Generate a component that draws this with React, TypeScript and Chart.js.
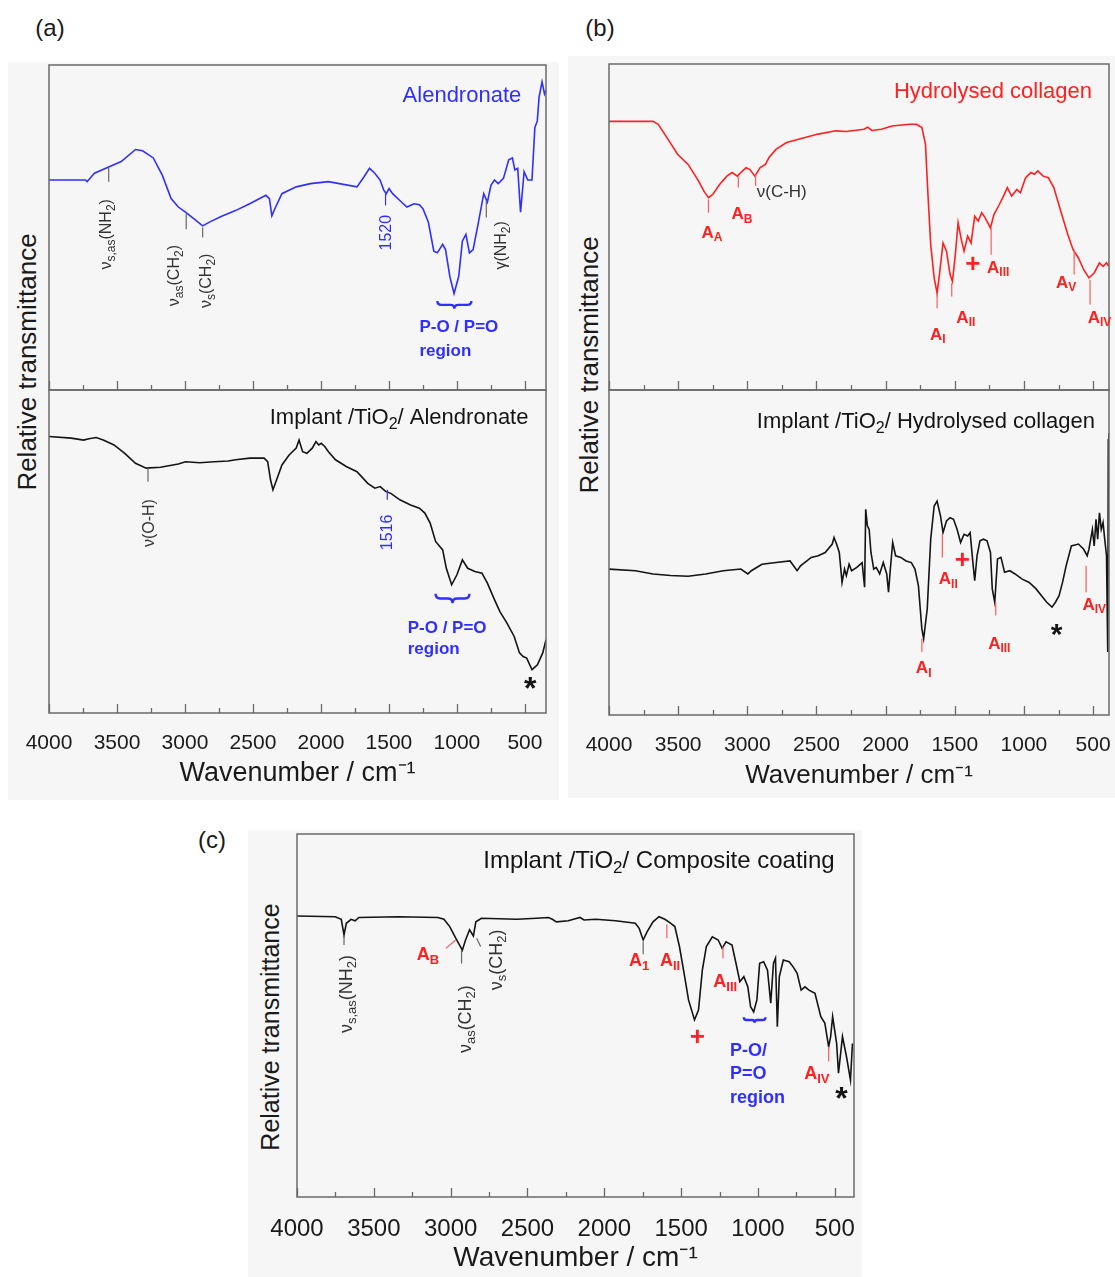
import React, { useEffect, useRef } from "react";
import { Chart, registerables } from "chart.js";
Chart.register(...registerables);

const FONT = "'Liberation Sans', Arial, sans-serif";
const BLUE = "#2f2fff";
const RED = "#ff2020";
const RED_L = "#ff5c5c";
const GRAY = "#666666";
const DARK = "#333333";
const BLACK = "#141414";
const FRAME = "#6a6a6a";
const BG = "#f6f6f6";

// ---- axis ticks ----
const TICK_LABELS = [4000, 3500, 3000, 2500, 2000, 1500, 1000, 500];
const TICK_MARKS = [4000, 3750, 3500, 3250, 3000, 2750, 2500, 2250, 2000, 1750, 1500, 1250, 1000, 750, 500];
const X_TITLE = "Wavenumber / cm\u207B\u00B9";
const Y_TITLE = "Relative transmittance";

// ---- (a) Alendronate ----
const alnWn = [4000,3732,3720,3666,3574,3469,3364,3312,3233,3167,3102,3049,2996,2931,2870,2813,2734,2629,2524,2405,2379,2361,2340,2287,2182,2077,1946,1735,1683,1643,1604,1565,1538,1520,1499,1473,1420,1368,1315,1276,1249,1210,1170,1144,1105,1084,1052,1021,987,960,934,908,881,842,803,776,750,724,697,658,619,592,574,553,532,506,479,448,427,409,396,374,356,345];
const alnT = [64.6,64.6,64.1,66.7,68.4,70.3,74.0,73.6,71.4,66.1,58.9,56.3,54.7,52.6,50.5,51.8,53.4,55.2,57.3,59.9,58.9,53.6,55.7,60.4,62.5,63.5,64.1,62.5,65.6,68.2,66.7,64.6,61.5,60.4,62.0,60.4,58.3,56.3,57.3,57.0,55.7,51.6,42.7,42.2,44.8,43.2,34.9,29.7,34.9,45.8,47.9,42.2,43.2,51.6,60.4,57.8,63.0,64.6,63.5,65.1,70.8,71.4,67.7,68.2,54.7,67.2,64.6,64.6,80.7,82.8,90.1,94.8,91.1,92.2];

// ---- (a) Implant / TiO2 / Alendronate ----
const impAWn = [4000,3837,3745,3706,3653,3601,3522,3443,3364,3285,3180,3049,2996,2891,2786,2681,2628,2523,2418,2392,2371,2353,2326,2287,2234,2182,2161,2135,2103,2064,2037,2016,1998,1972,1945,1893,1814,1735,1656,1604,1564,1525,1486,1420,1341,1276,1236,1197,1157,1105,1078,1039,1000,960,921,868,816,776,724,684,632,579,540,513,487,448,408,369,345];
const impAT = [85.6,85.1,84.5,84.9,85.3,84.5,83.0,80.4,77.3,75.8,76.1,77.1,77.8,77.5,77.8,78.0,78.4,78.9,78.9,77.8,72.2,69.1,72.2,76.8,79.9,82.0,84.5,80.9,80.4,82.0,84.0,83.0,83.5,82.5,80.9,78.4,76.3,74.7,71.1,69.6,70.1,68.6,68.0,66.0,64.4,63.4,61.9,58.8,53.1,50.5,44.8,39.7,42.8,47.4,44.8,43.8,43.3,40.2,35.1,31.4,27.8,23.7,18.6,17.5,17.0,13.4,14.9,18.6,22.7];

// ---- (b) Hydrolysed collagen ----
const colWn = [4000,3682,3644,3581,3504,3428,3352,3314,3281,3250,3199,3148,3110,3072,3047,3009,2983,2945,2907,2869,2843,2793,2716,2589,2488,2360,2284,2157,2130,2100,2030,1954,1827,1776,1738,1712,1694,1674,1649,1628,1611,1585,1560,1534,1517,1496,1476,1450,1433,1407,1382,1356,1331,1305,1280,1242,1217,1178,1153,1120,1089,1051,1026,988,950,924,899,861,823,784,734,683,645,606,568,530,492,454,428,403,385];
const colT = [82.4,82.4,81.5,77.4,72.3,69.2,64.1,61.0,59.0,60.0,63.1,65.6,66.7,65.6,66.7,68.2,67.7,65.6,68.2,69.2,71.3,73.8,75.9,77.4,78.5,79.5,79.3,80.0,80.6,79.6,80.0,81.0,81.5,81.5,80.5,75.4,60.0,44.6,34.4,29.7,35.4,45.1,42.6,35.4,33.3,41.5,51.3,45.6,42.6,47.2,45.1,53.3,51.8,54.4,52.8,49.7,53.8,56.9,59.0,62.1,59.5,61.5,60.5,65.1,66.7,66.2,67.2,65.6,65.1,62.1,54.9,47.7,43.1,40.5,36.9,34.4,35.9,39.0,37.9,39.0,37.9];

// ---- (b) Implant / TiO2 / Hydrolysed collagen ----
const impCWn = [4000,3809,3682,3555,3428,3301,3174,3047,2996,2971,2894,2793,2691,2640,2615,2538,2487,2437,2386,2373,2355,2335,2315,2297,2284,2264,2246,2208,2170,2152,2144,2132,2119,2106,2086,2068,2043,2017,1992,1979,1966,1949,1928,1890,1852,1814,1788,1763,1738,1725,1699,1674,1649,1628,1603,1585,1560,1534,1509,1483,1458,1433,1407,1389,1369,1356,1339,1318,1293,1267,1242,1229,1211,1191,1166,1140,1102,1064,1013,962,912,873,835,797,772,746,721,695,657,606,568,543,530,505,492,479,467,454,441,428,416,403,394,390,386];
const impCT = [44.9,44.4,43.4,42.9,42.7,43.4,44.4,44.9,43.4,44.4,46.4,46.9,47.4,44.4,45.9,48.5,49.0,50.0,52.6,54.6,52.6,50.0,40.8,44.9,42.9,46.4,44.4,45.4,46.9,39.3,63.3,58.2,57.1,50.0,44.9,45.4,43.4,46.9,43.4,37.8,44.9,53.1,49.0,48.5,47.4,46.9,44.9,39.8,26.5,23.5,32.7,54.1,64.3,65.8,61.2,56.1,59.7,60.7,60.2,57.1,53.1,55.6,55.1,56.1,46.9,41.3,49.0,53.6,54.1,53.6,50.0,38.8,34.7,48.0,48.5,43.9,44.4,43.4,41.8,40.8,38.8,36.7,34.7,33.2,34.7,36.7,40.8,45.9,52.0,52.6,51.0,49.0,51.0,57.1,52.0,60.2,54.1,62.2,57.1,59.2,54.1,49.0,19.4,84.7,86.7];

// ---- (c) Implant / TiO2 / Composite coating ----
const compWn = [4000,3751,3712,3694,3679,3648,3622,3597,3340,3083,3044,3006,2967,2942,2924,2903,2877,2852,2836,2800,2569,2441,2364,2338,2312,2235,2158,2132,2055,1927,1798,1773,1747,1721,1683,1644,1606,1567,1541,1511,1477,1452,1413,1387,1362,1336,1297,1259,1233,1208,1169,1143,1118,1092,1066,1048,1028,1007,989,963,938,917,899,886,874,861,835,797,771,745,719,694,668,629,591,565,540,527,514,488,476,450,424,398,385];
const compT = [77.4,77.2,76.5,72.2,75.4,76.5,76.1,77.0,77.2,77.0,76.5,74.5,71.3,69.4,68.0,70.8,73.6,71.9,75.8,76.8,76.5,76.8,77.0,76.5,75.8,76.1,77.0,76.3,76.5,76.1,75.4,74.0,70.8,73.1,75.8,77.2,76.5,75.4,74.5,69.0,60.7,54.3,48.8,51.5,62.5,69.0,71.7,70.8,68.5,70.3,69.4,64.4,59.3,60.7,57.9,52.4,51.0,54.3,64.4,64.8,62.5,53.4,64.4,65.8,46.9,60.7,65.3,64.8,63.4,61.6,57.0,57.9,57.0,56.1,49.7,47.9,41.4,44.2,49.7,42.3,34.1,44.2,38.7,32.2,42.3];

type Ann =
  | { k: "text"; x: number; y: number; s: string; c: string; size: number; bold?: boolean; align?: "left" | "center" | "right"; rot?: boolean; dy?: number }
  | { k: "line"; x1: number; y1: number; x2?: number; y2: number; c: string }
  | { k: "brace"; x1: number; x2: number; y1: number; y2: number; c: string };

// ---- annotations (data coordinates) ----
const annAlnTop: Ann[] = [
  { k: "text", x: 527, y: 90.6, s: "Alendronate", c: BLUE, size: 22, align: "right" },
  { k: "line", x1: 3561, y1: 68.4, y2: 64.1, c: GRAY },
  { k: "text", x: 3574, y: 47.9, s: "ν_{s,as}(NH_{2})", c: DARK, size: 16, rot: true },
  { k: "line", x1: 2991, y1: 54.2, y2: 49.5, c: GRAY },
  { k: "text", x: 3075, y: 35.2, s: "ν_{as}(CH_{2})", c: DARK, size: 16, rot: true },
  { k: "line", x1: 2870, y1: 50.0, y2: 46.9, c: GRAY },
  { k: "text", x: 2839, y: 33.6, s: "ν_{s}(CH_{2})", c: DARK, size: 16, rot: true },
  { k: "line", x1: 1525, y1: 60.4, y2: 56.8, c: BLUE },
  { k: "text", x: 1520, y: 48.4, s: "1520", c: BLUE, size: 16, rot: true },
  { k: "line", x1: 784, y1: 58.3, y2: 53.1, c: GRAY },
  { k: "text", x: 671, y: 44.5, s: "γ(NH_{2})", c: DARK, size: 16, rot: true },
  { k: "brace", x1: 1144, x2: 894, y1: 27.4, y2: 25.0, c: BLUE },
  { k: "text", x: 1276, y: 19.3, s: "P-O / P=O", c: BLUE, size: 17, bold: true, align: "left" },
  { k: "text", x: 1276, y: 12.0, s: "region", c: BLUE, size: 17, bold: true, align: "left" },
];

const annAlnBot: Ann[] = [
  { k: "text", x: 474, y: 91.2, s: "Implant /TiO_{2}/ Alendronate", c: BLACK, size: 22, align: "right" },
  { k: "line", x1: 3272, y1: 75.8, y2: 71.6, c: GRAY },
  { k: "text", x: 3259, y: 58.8, s: "ν(O-H)", c: DARK, size: 16, rot: true },
  { k: "line", x1: 1512, y1: 69.1, y2: 66.0, c: BLUE },
  { k: "text", x: 1512, y: 55.9, s: "1516", c: BLUE, size: 16, rot: true },
  { k: "brace", x1: 1157, x2: 908, y1: 36.9, y2: 34.0, c: BLUE },
  { k: "text", x: 1362, y: 26.3, s: "P-O / P=O", c: BLUE, size: 17, bold: true, align: "left" },
  { k: "text", x: 1362, y: 19.6, s: "region", c: BLUE, size: 17, bold: true, align: "left" },
  { k: "text", x: 461, y: 9.3, s: "*", c: BLACK, size: 32, bold: true, dy: 7 },
];

const annColTop: Ann[] = [
  { k: "text", x: 508, y: 91.3, s: "Hydrolysed collagen", c: RED, size: 22, align: "right" },
  { k: "line", x1: 3281, y1: 58.5, y2: 54.4, c: RED_L },
  { k: "text", x: 3255, y: 48.2, s: "A_{A}", c: RED, size: 17, bold: true },
  { k: "line", x1: 3065, y1: 65.6, y2: 62.1, c: RED_L },
  { k: "text", x: 3039, y: 53.8, s: "A_{B}", c: RED, size: 17, bold: true },
  { k: "line", x1: 2940, y1: 66.2, y2: 62.6, c: RED_L },
  { k: "text", x: 2932, y: 60.5, s: "ν(C-H)", c: DARK, size: 17, align: "left" },
  { k: "line", x1: 1628, y1: 29.2, y2: 25.1, c: RED_L },
  { k: "text", x: 1623, y: 16.9, s: "A_{I}", c: RED, size: 17, bold: true },
  { k: "line", x1: 1522, y1: 32.8, y2: 28.7, c: RED_L },
  { k: "text", x: 1420, y: 22.1, s: "A_{II}", c: RED, size: 17, bold: true },
  { k: "text", x: 1369, y: 38.3, s: "+", c: RED, size: 26, bold: true },
  { k: "line", x1: 1237, y1: 49.7, y2: 41.5, c: RED_L },
  { k: "text", x: 1186, y: 37.4, s: "A_{III}", c: RED, size: 17, bold: true },
  { k: "line", x1: 637, y1: 42.6, y2: 35.4, c: RED_L },
  { k: "text", x: 695, y: 32.8, s: "A_{V}", c: RED, size: 17, bold: true },
  { k: "line", x1: 522, y1: 33.8, y2: 26.2, c: RED_L },
  { k: "text", x: 454, y: 22.1, s: "A_{IV}", c: RED, size: 17, bold: true },
];

const annColBot: Ann[] = [
  { k: "text", x: 486, y: 90.3, s: "Implant /TiO_{2}/ Hydrolysed collagen", c: BLACK, size: 22, align: "right" },
  { k: "line", x1: 1738, y1: 23.5, y2: 19.4, c: RED_L },
  { k: "text", x: 1725, y: 14.3, s: "A_{I}", c: RED, size: 17, bold: true },
  { k: "line", x1: 1590, y1: 55.6, y2: 48.5, c: RED_L },
  { k: "text", x: 1547, y: 41.8, s: "A_{II}", c: RED, size: 17, bold: true },
  { k: "text", x: 1445, y: 47.4, s: "+", c: RED, size: 26, bold: true },
  { k: "line", x1: 1204, y1: 34.7, y2: 30.6, c: RED_L },
  { k: "text", x: 1178, y: 21.9, s: "A_{III}", c: RED, size: 17, bold: true },
  { k: "text", x: 764, y: 26.5, s: "*", c: BLACK, size: 30, bold: true, dy: 7 },
  { k: "line", x1: 551, y1: 45.9, y2: 37.8, c: RED_L },
  { k: "text", x: 492, y: 33.9, s: "A_{IV}", c: RED, size: 17, bold: true },
];

const annComp: Ann[] = [
  { k: "text", x: 501, y: 92.4, s: "Implant /TiO_{2}/ Composite coating", c: BLACK, size: 24, align: "right" },
  { k: "line", x1: 3694, y1: 71.9, y2: 69.4, c: GRAY },
  { k: "text", x: 3674, y: 55.9, s: "ν_{s,as}(NH_{2})", c: DARK, size: 18, rot: true },
  { k: "line", x1: 3031, y1: 68.5, x2: 2967, y2: 70.8, c: RED_L },
  { k: "text", x: 3147, y: 66.7, s: "A_{B}", c: RED, size: 18, bold: true },
  { k: "line", x1: 2929, y1: 68.0, y2: 64.3, c: GRAY },
  { k: "text", x: 2898, y: 49.0, s: "ν_{as}(CH_{2})", c: DARK, size: 18, rot: true },
  { k: "line", x1: 2831, y1: 71.3, x2: 2805, y2: 69.0, c: GRAY },
  { k: "text", x: 2698, y: 65.3, s: "ν_{s}(CH_{2})", c: DARK, size: 18, rot: true },
  { k: "line", x1: 1747, y1: 70.3, y2: 66.9, c: GRAY },
  { k: "text", x: 1773, y: 64.9, s: "A_{1}", c: RED, size: 18, bold: true },
  { k: "line", x1: 1593, y1: 75.1, y2: 71.3, c: RED_L },
  { k: "text", x: 1572, y: 65.1, s: "A_{II}", c: RED, size: 18, bold: true },
  { k: "line", x1: 1228, y1: 69.0, y2: 65.8, c: RED_L },
  { k: "text", x: 1213, y: 59.1, s: "A_{III}", c: RED, size: 18, bold: true },
  { k: "text", x: 1395, y: 43.9, s: "+", c: RED, size: 26, bold: true },
  { k: "brace", x1: 1092, x2: 951, y1: 49.5, y2: 48.0, c: BLUE },
  { k: "text", x: 1182, y: 40.3, s: "P-O/", c: BLUE, size: 18, bold: true, align: "left" },
  { k: "text", x: 1182, y: 33.9, s: "P=O", c: BLUE, size: 18, bold: true, align: "left" },
  { k: "text", x: 1182, y: 27.3, s: "region", c: BLUE, size: 18, bold: true, align: "left" },
  { k: "line", x1: 540, y1: 41.4, y2: 37.3, c: RED_L },
  { k: "text", x: 617, y: 33.9, s: "A_{IV}", c: RED, size: 18, bold: true },
  { k: "text", x: 457, y: 28.7, s: "*", c: BLACK, size: 32, bold: true, dy: 7 },
];

// ---- rich text helpers ----
type Seg = { t: string; sub: boolean; sup: boolean };
function parseRich(s: string): Seg[] {
  const out: Seg[] = [];
  let i = 0;
  const isMark = (j: number) => (s[j] === "_" || s[j] === "^") && s[j + 1] === "{";
  while (i < s.length) {
    if (isMark(i)) {
      const j = s.indexOf("}", i);
      out.push({ t: s.slice(i + 2, j), sub: s[i] === "_", sup: s[i] === "^" });
      i = j + 1;
    } else {
      let j = i;
      while (j < s.length && !isMark(j)) j++;
      out.push({ t: s.slice(i, j), sub: false, sup: false });
      i = j;
    }
  }
  return out;
}

function drawRich(ctx: CanvasRenderingContext2D, it: any, px: number, py: number) {
  const segs = parseRich(it.s);
  const w8 = it.bold ? "bold " : "";
  const main = `${w8}${it.size}px ${FONT}`;
  const small = `${w8}${Math.round(it.size * 0.72)}px ${FONT}`;
  ctx.save();
  let total = 0;
  const widths = segs.map((sg) => {
    ctx.font = sg.sub || sg.sup ? small : main;
    const m = ctx.measureText(sg.t).width;
    total += m;
    return m;
  });
  ctx.translate(px, py + (it.dy || 0));
  if (it.rot) ctx.rotate(-Math.PI / 2);
  const align = it.align || "center";
  let sx = align === "left" ? 0 : align === "right" ? -total : -total / 2;
  ctx.textBaseline = "middle";
  ctx.textAlign = "left";
  ctx.fillStyle = it.c;
  segs.forEach((sg, k) => {
    ctx.font = sg.sub || sg.sup ? small : main;
    const off = sg.sub ? it.size * 0.3 : sg.sup ? -it.size * 0.35 : 0;
    ctx.fillText(sg.t, sx, off);
    sx += widths[k];
  });
  ctx.restore();
}

function drawOverlay(chart: any, items: Ann[], xMin: number) {
  const { ctx, chartArea: a } = chart;
  const xs = chart.scales.x;
  const ys = chart.scales.y;
  ctx.save();
  // frame
  ctx.strokeStyle = FRAME;
  ctx.lineWidth = 1.5;
  ctx.strokeRect(a.left, a.top, a.right - a.left, a.bottom - a.top);
  // inward tick marks on the bottom edge
  ctx.beginPath();
  for (const v of TICK_MARKS) {
    if (v < xMin) continue;
    const px = Math.round(xs.getPixelForValue(v)) + 0.5;
    const len = v % 500 === 0 ? 9 : 5;
    ctx.moveTo(px, a.bottom);
    ctx.lineTo(px, a.bottom - len);
  }
  ctx.lineWidth = 1.3;
  ctx.stroke();
  // annotations
  for (const it of items) {
    if (it.k === "line") {
      ctx.strokeStyle = it.c;
      ctx.lineWidth = 1.2;
      ctx.beginPath();
      ctx.moveTo(xs.getPixelForValue(it.x1), ys.getPixelForValue(it.y1));
      ctx.lineTo(xs.getPixelForValue(it.x2 ?? it.x1), ys.getPixelForValue(it.y2));
      ctx.stroke();
    } else if (it.k === "brace") {
      const L = Math.min(xs.getPixelForValue(it.x1), xs.getPixelForValue(it.x2));
      const R = Math.max(xs.getPixelForValue(it.x1), xs.getPixelForValue(it.x2));
      const T = ys.getPixelForValue(it.y1);
      const B = ys.getPixelForValue(it.y2);
      const h = B - T;
      const Mx = (L + R) / 2;
      const mid = T + h / 2;
      ctx.strokeStyle = it.c;
      ctx.lineWidth = 2.4;
      ctx.beginPath();
      ctx.moveTo(L, T);
      ctx.quadraticCurveTo(L, mid, L + h / 2, mid);
      ctx.lineTo(Mx - h / 2, mid);
      ctx.quadraticCurveTo(Mx, mid, Mx, B);
      ctx.moveTo(R, T);
      ctx.quadraticCurveTo(R, mid, R - h / 2, mid);
      ctx.lineTo(Mx + h / 2, mid);
      ctx.quadraticCurveTo(Mx, mid, Mx, B);
      ctx.stroke();
    } else {
      drawRich(ctx, it, xs.getPixelForValue(it.x), ys.getPixelForValue(it.y));
    }
  }
  ctx.restore();
}

type AxisSpec = { height: number; tickSize: number; tickPad: number; titleSize: number; titlePad: number };
type PanelProps = {
  left: number; top: number; width: number; height: number;
  pad: { left: number; right: number; top: number; bottom: number };
  wn: number[]; t: number[]; color: string; xMin: number;
  axis?: AxisSpec; ann: Ann[];
};

function Panel(p: PanelProps) {
  const ref = useRef<HTMLCanvasElement>(null);
  useEffect(() => {
    const axis = p.axis;
    const chart = new Chart(ref.current as HTMLCanvasElement, {
      type: "line",
      data: {
        datasets: [
          {
            data: p.wn.map((w, i) => ({ x: w, y: p.t[i] })),
            borderColor: p.color,
            borderWidth: 1.6,
            pointRadius: 0,
            tension: 0,
            fill: false,
          },
        ],
      },
      options: {
        animation: false,
        responsive: false,
        maintainAspectRatio: false,
        events: [],
        layout: { padding: p.pad },
        plugins: { legend: { display: false }, tooltip: { enabled: false } },
        scales: {
          x: {
            type: "linear",
            reverse: true,
            min: p.xMin,
            max: 4000,
            display: !!axis,
            grid: { display: false },
            border: { display: false },
            afterBuildTicks: (s: any) => {
              s.ticks = TICK_LABELS.map((v) => ({ value: v }));
            },
            afterFit: (s: any) => {
              if (axis) s.height = axis.height;
            },
            ticks: {
              autoSkip: false,
              maxRotation: 0,
              padding: axis ? axis.tickPad : 0,
              color: "#1a1a1a",
              font: { family: FONT, size: axis ? axis.tickSize : 12 },
              callback: (v: any) => String(v),
            },
            title: {
              display: !!axis,
              text: X_TITLE,
              color: "#1a1a1a",
              font: { family: FONT, size: axis ? axis.titleSize : 12 },
              padding: { top: 0, bottom: axis ? axis.titlePad : 0 },
            },
          },
          y: { type: "linear", min: 0, max: 100, display: false },
        },
      },
      plugins: [
        {
          id: "overlay",
          afterDatasetsDraw(c: any) {
            drawOverlay(c, p.ann, p.xMin);
          },
        },
      ],
    } as any);
    return () => chart.destroy();
  }, []);
  return (
    <canvas
      ref={ref}
      width={p.width}
      height={p.height}
      style={{ position: "absolute", left: p.left, top: p.top, width: p.width, height: p.height }}
    />
  );
}

function Label(props: { x: number; y: number; size: number; text: string; rot?: boolean }) {
  return (
    <div
      style={{
        position: "absolute",
        left: props.x,
        top: props.y,
        transform: `translate(-50%, -50%)${props.rot ? " rotate(-90deg)" : ""}`,
        font: `${props.size}px ${FONT}`,
        color: "#1a1a1a",
        whiteSpace: "nowrap",
        lineHeight: 1,
      }}
    >
      {props.text}
    </div>
  );
}

function Bg(props: { x: number; y: number; w: number; h: number }) {
  return <div style={{ position: "absolute", left: props.x, top: props.y, width: props.w, height: props.h, background: BG }} />;
}

export default function App() {
  const axAB: AxisSpec = { height: 87, tickSize: 21, tickPad: 10, titleSize: 27, titlePad: 10 };
  const axB: AxisSpec = { height: 83, tickSize: 21, tickPad: 10, titleSize: 26, titlePad: 7 };
  const axC: AxisSpec = { height: 80, tickSize: 24, tickPad: 10, titleSize: 28, titlePad: 2 };
  return (
    <div style={{ position: "absolute", left: 0, top: 0, width: 1115, height: 1277, overflow: "hidden", background: "#ffffff" }}>
      <Bg x={8} y={62} w={551} h={738} />
      <Bg x={568} y={56} w={547} h={742} />
      <Bg x={248} y={830} w={614} h={447} />

      <Label x={50} y={28} size={24} text="(a)" />
      <Label x={600} y={28} size={24} text="(b)" />
      <Label x={212} y={840} size={24} text="(c)" />

      <Label x={27} y={362} size={26} text={Y_TITLE} rot />
      <Label x={589} y={365} size={26} text={Y_TITLE} rot />
      <Label x={270} y={1027} size={25} text={Y_TITLE} rot />

      <Panel left={9} top={55} width={577} height={345} pad={{ left: 40, right: 40, top: 10, bottom: 10 }}
        wn={alnWn} t={alnT} color={BLUE} xMin={345} ann={annAlnTop} />
      <Panel left={9} top={380} width={577} height={420} pad={{ left: 40, right: 40, top: 10, bottom: 0 }}
        wn={impAWn} t={impAT} color={BLACK} xMin={345} axis={axAB} ann={annAlnBot} />
      <Panel left={569} top={54} width={580} height={346} pad={{ left: 40, right: 40, top: 10, bottom: 10 }}
        wn={colWn} t={colT} color={RED} xMin={385} ann={annColTop} />
      <Panel left={569} top={380} width={580} height={418} pad={{ left: 40, right: 40, top: 10, bottom: 0 }}
        wn={impCWn} t={impCT} color={BLACK} xMin={385} axis={axB} ann={annColBot} />
      <Panel left={257} top={824} width={637} height={453} pad={{ left: 40, right: 40, top: 10, bottom: 0 }}
        wn={compWn} t={compT} color={BLACK} xMin={375} axis={axC} ann={annComp} />
    </div>
  );
}
